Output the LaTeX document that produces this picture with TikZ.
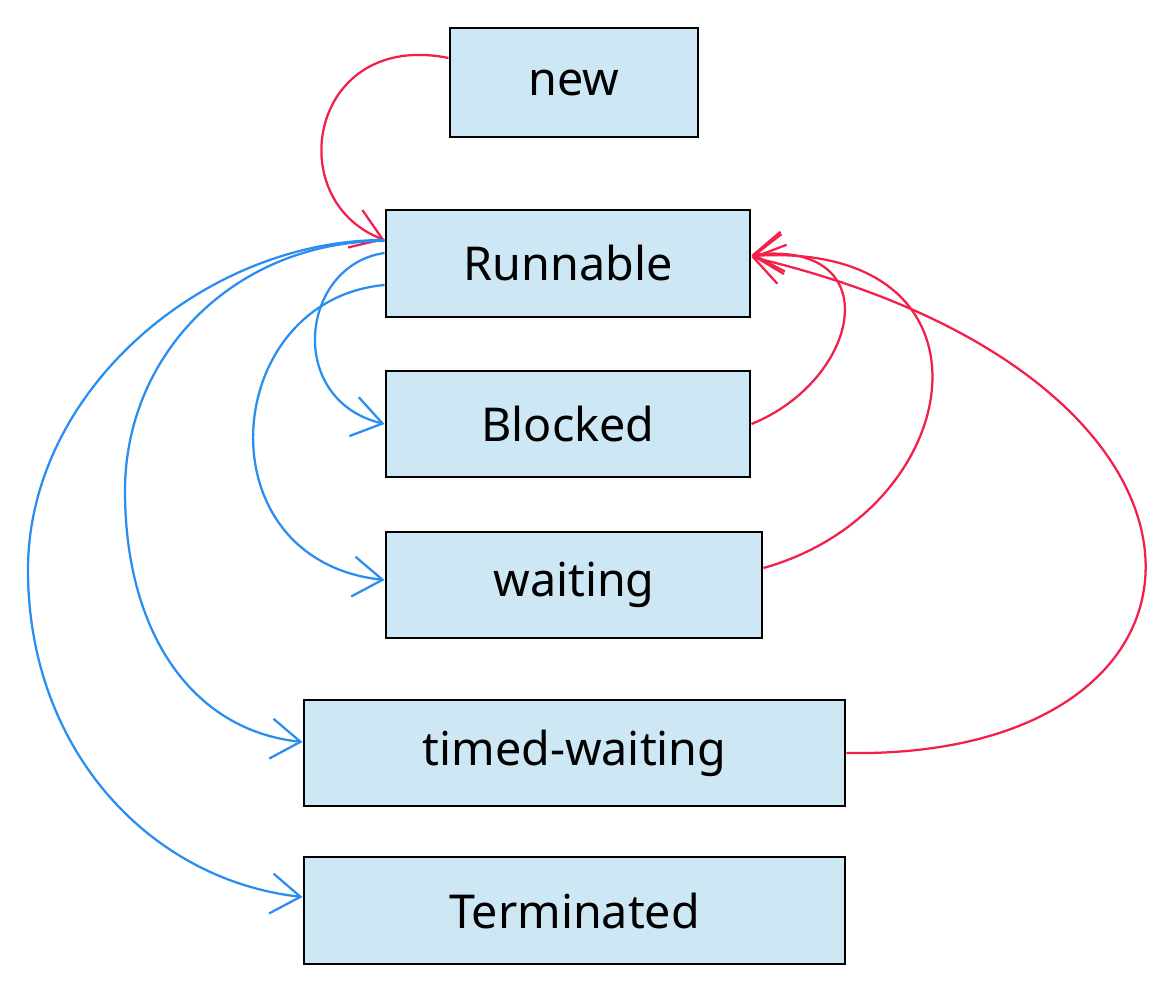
\documentclass[tikz,border=0pt]{standalone}
\usepackage{fontspec}
\setmainfont{Noto Sans}
\usetikzlibrary{arrows.meta}
\definecolor{boxfill}{HTML}{CDE7F5}
\definecolor{redline}{HTML}{F2204A}
\definecolor{blueline}{HTML}{2A8EF0}
\tikzset{
  state/.style={draw=black, line width=2.2pt, fill=boxfill, inner sep=0pt, font=\fontsize{35}{40}\selectfont, text=black},
  tip/.style={-{Straight Barb[length=22pt,width=30pt]}},
  redarrow/.style={draw=redline, line width=1.7pt, tip},
  bluearrow/.style={draw=blueline, line width=1.7pt, tip}
}
\begin{document}
\begin{tikzpicture}[x=0.75pt,y=-0.75pt]
\useasboundingbox (0,0) rectangle (1176,994);
\node[state, minimum width=186pt, minimum height=81.75pt] (new) at (574,82.5) {new};
\node[state, minimum width=273pt, minimum height=80.25pt] (run) at (568,263.5) {Runnable};
\node[state, minimum width=273pt, minimum height=79.5pt] (blk) at (568,424) {Blocked};
\node[state, minimum width=282pt, minimum height=79.5pt] (wait) at (574,585) {waiting};
\node[state, minimum width=405.75pt, minimum height=79.5pt] (tw) at (574.5,753) {timed-waiting};
\node[state, minimum width=405.75pt, minimum height=80.25pt] (term) at (574.5,910.5) {Terminated};

% red: into Runnable
\draw[redarrow] (new.west |- 0,58) .. controls (310,30) and (280,200) .. (run.west |- 0,240);
\draw[redarrow] (blk.east) .. controls (860,380) and (890,240) .. (run.east |- 0,255);
\draw[redarrow] (wait.east |- 0,568) .. controls (970,510) and (1010,240) .. (run.east |- 0,256);
\draw[redarrow] (tw.east) .. controls (1250,760) and (1270,380) .. (run.east |- 0,257);

% blue: out of Runnable
\coordinate (b1) at (28,570);
\coordinate (b2) at (125,491);
\draw[bluearrow] (run.west |- 0,240) .. controls (205,240) and (28,390) .. (b1) .. controls (28,750) and (150,880) .. (term.west |- 0,897);
\draw[bluearrow] (run.west |- 0,241) .. controls (237,241) and (125,352) .. (b2) .. controls (125,630) and (190,730) .. (tw.west |- 0,742);
\draw[bluearrow] (run.west |- 0,253) .. controls (300,265) and (285,400) .. (blk.west);
\draw[bluearrow] (run.west |- 0,285) .. controls (220,300) and (200,560) .. (wait.west |- 0,580);
\end{tikzpicture}
\end{document}
